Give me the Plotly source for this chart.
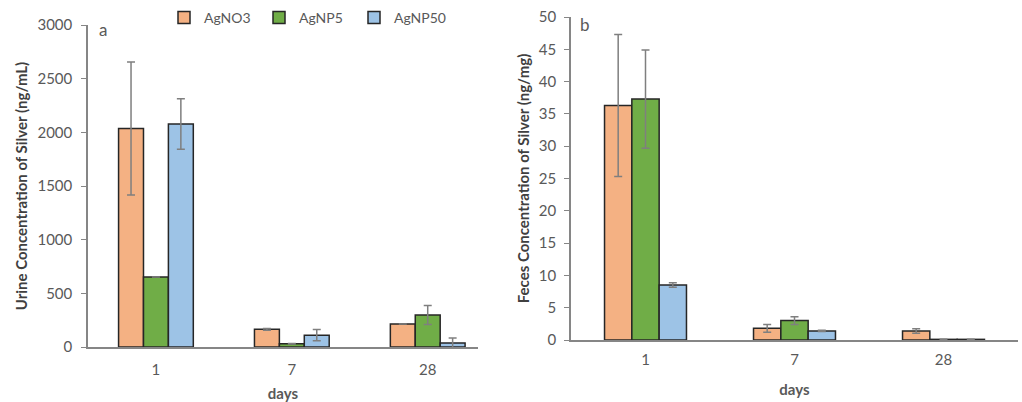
import plotly.graph_objects as go

days = ["1", "7", "28"]
series = ["AgNO3", "AgNP5", "AgNP50"]
colors = ["#F4B183", "#70AD47", "#9DC3E6"]

urine_vals = {
    "AgNO3": [2035, 165, 215],
    "AgNP5": [652, 30, 298],
    "AgNP50": [2078, 110, 38],
}
urine_err = {
    "AgNO3": [620, 8, 0],
    "AgNP5": [0, 3, 88],
    "AgNP50": [235, 52, 45],
}
feces_vals = {
    "AgNO3": [36.3, 1.8, 1.4],
    "AgNP5": [37.3, 3.0, 0.1],
    "AgNP50": [8.5, 1.4, 0.1],
}
feces_err = {
    "AgNO3": [11.0, 0.6, 0.35],
    "AgNP5": [7.6, 0.6, 0.0],
    "AgNP50": [0.35, 0.1, 0.0],
}

W, H = 1022, 402
FONT = "Lato"
GRAY = "#595959"

fig = go.Figure()
for s, c in zip(series, colors):
    fig.add_trace(go.Bar(
        x=days, y=urine_vals[s], name=s, marker=dict(color=c, line=dict(color="#262626", width=1.5)),
        error_y=dict(type="data", array=urine_err[s], color="#7F7F7F", thickness=1.5, width=4),
        xaxis="x", yaxis="y", legendgroup=s, showlegend=True))
for s, c in zip(series, colors):
    fig.add_trace(go.Bar(
        x=days, y=feces_vals[s], name=s, marker=dict(color=c, line=dict(color="#262626", width=1.5)),
        error_y=dict(type="data", array=feces_err[s], color="#7F7F7F", thickness=1.5, width=4),
        xaxis="x2", yaxis="y2", legendgroup=s, showlegend=False))

def px_x(p):
    return p / W

def px_y(p):
    return 1 - p / H

axis_common = dict(showline=True, linecolor="#868686", linewidth=1.5, showgrid=False, zeroline=False,
                   automargin=False, tickfont=dict(family=FONT, size=15, color=GRAY))

fig.update_layout(
    width=W, height=H, margin=dict(l=0, r=0, t=0, b=0),
    paper_bgcolor="white", plot_bgcolor="white",
    barmode="group", bargap=0.45, bargroupgap=0,
    font=dict(family=FONT, color=GRAY),
    xaxis=dict(domain=[px_x(88), px_x(478)], anchor="y", type="category", range=[-0.5, 2.37],
               ticks="", ticklabelstandoff=8,
               title=dict(text="<b>days</b>", font=dict(family=FONT, size=15, color=GRAY), standoff=15),
               **axis_common),
    yaxis=dict(domain=[px_y(347), px_y(25)], anchor="x", range=[0, 3000], dtick=500,
               ticks="outside", ticklen=5, tickcolor="#868686", ticklabelstandoff=6,
               title=dict(text="<b>Urine Concentration of Silver (ng/mL)</b>",
                          font=dict(family=FONT, size=15, color="#404040"), standoff=6),
               **axis_common),
    xaxis2=dict(domain=[px_x(571), px_x(1018)], anchor="y2", type="category", range=[-0.5, 2.5],
                ticks="", ticklabelstandoff=5,
                title=dict(text="<b>days</b>", font=dict(family=FONT, size=15, color=GRAY), standoff=18),
                **axis_common),
    yaxis2=dict(domain=[px_y(340), px_y(17)], anchor="x2", range=[0, 50], dtick=5,
                ticks="outside", ticklen=5, tickcolor="#868686", ticklabelstandoff=5,
                title=dict(text="<b>Feces Concentration of Silver (ng/mg)</b>",
                           font=dict(family=FONT, size=15, color="#404040"), standoff=6),
                **axis_common),
    legend=dict(orientation="h", x=px_x(164), y=px_y(2), xanchor="left", yanchor="top",
                font=dict(family=FONT, size=14, color=GRAY), bgcolor="rgba(0,0,0,0)",
                itemwidth=30, entrywidth=50, entrywidthmode="pixels", tracegroupgap=0),
    annotations=[
        dict(text="a", x=px_x(97), y=px_y(30), xref="paper", yref="paper", showarrow=False,
             xanchor="left", yanchor="middle", font=dict(family=FONT, size=17, color=GRAY)),
        dict(text="b", x=px_x(578), y=px_y(25), xref="paper", yref="paper", showarrow=False,
             xanchor="left", yanchor="middle", font=dict(family=FONT, size=17, color=GRAY)),
    ],
)

fig.write_html("out.html")
